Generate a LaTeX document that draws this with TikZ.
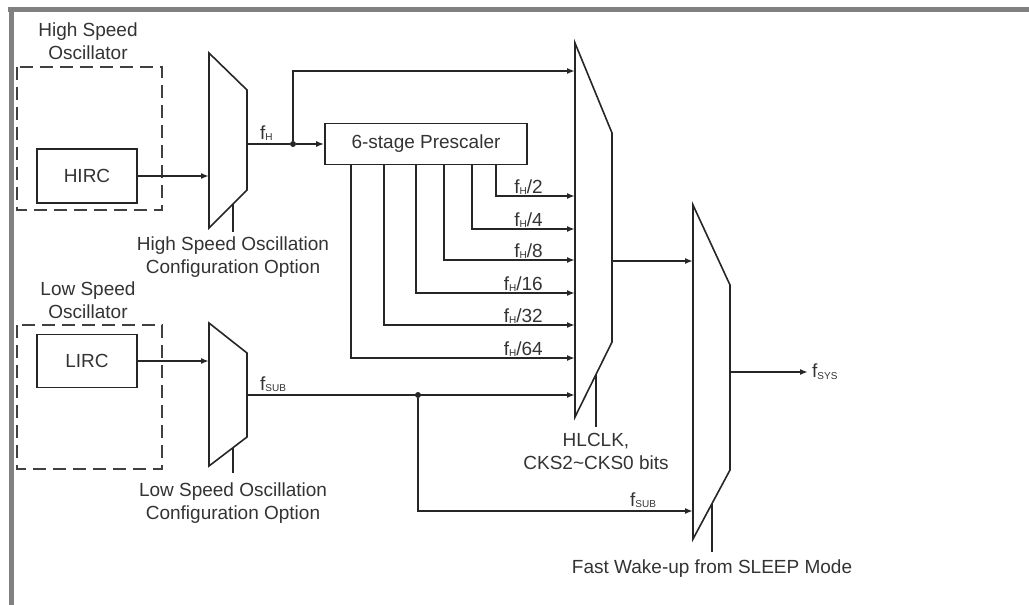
\documentclass[tikz,border=0pt]{standalone}
\usepackage{fontspec}
\setmainfont{Liberation Sans}
\usetikzlibrary{arrows.meta}
\newcommand{\lowidx}[1]{{\fontsize{10}{10}\selectfont\raisebox{-0.35ex}{#1}}}
\newcommand{\fhigh}{f\lowidx{H}}
\newcommand{\fsubclk}{f\lowidx{SUB}}
\tikzset{
  wire/.style={line width=1.6pt, draw=black!85},
  sig/.style={wire, -{Latex[length=8pt,width=6pt]}},
  box/.style={draw=black!85, line width=1.6pt},
  txt/.style={font=\fontsize{19}{23}\selectfont, text=black!80, align=center, inner sep=0pt},
  oscframe/.style={line width=1.6pt, draw=black!75, dash pattern=on 13pt off 7pt},
  dot/.style={circle, fill=black!85, inner sep=0pt, minimum size=6pt},
}
\begin{document}
\begin{tikzpicture}[x=1pt,y=-1pt]
\useasboundingbox (0,0) rectangle (1029,605);
\draw[line width=5pt, gray] (8,9) -- (1029,9);
\draw[line width=5pt, gray] (11.5,7) -- (11.5,605);

\draw[oscframe] (17,67) rectangle (162,210);
\draw[oscframe] (17,325) rectangle (162,469);
\node[txt, anchor=north] (hsosc) at (88,23) {High Speed\\Oscillator};
\node[txt, anchor=north] (lsosc) at (88,282) {Low Speed\\Oscillator};
\node[box, txt, minimum width=100pt, minimum height=54pt] (hirc) at (87,176) {HIRC};
\node[box, txt, minimum width=100pt, minimum height=53pt] (lirc) at (87,361) {LIRC};
\node[box, txt, minimum width=202pt, minimum height=41pt] (presc) at (426,144) {6-stage Prescaler};

\draw[wire] (209,53) -- (247,90) -- (247,190) -- (209,228) -- cycle;
\draw[wire] (209,323) -- (247,353) -- (247,437) -- (209,466) -- cycle;
\draw[wire] (575,43) -- (612,133) -- (612,342) -- (575,417) -- cycle;
\draw[wire] (693,205) -- (730,285) -- (730,470) -- (693,539) -- cycle;
\coordinate (hsl) at (209,0);
\coordinate (bigl) at (575,0);
\coordinate (rml) at (693,0);
\coordinate (hsout) at (247,144);
\coordinate (lsout) at (247,395);
\coordinate (bigout) at (612,261);
\coordinate (rmout) at (730,372);
\coordinate (fhtop) at (575,71);
\coordinate (wakein) at (693,511);

\draw[sig] (hirc.east) -- (hirc.east -| hsl);
\draw[sig] (lirc.east) -- (lirc.east -| hsl);
\node[dot] (fhdot) at (293,144) {};
\draw[wire] (hsout) -- (fhdot);
\draw[sig] (fhdot) -- (presc.west);
\draw[sig] (fhdot) |- (fhtop);
\node[txt, anchor=base west] (fhlab) at (260,139) {\fhigh};

\foreach \tx/\ty/\lab in {496/196/2, 472/229/4, 444/260/8, 416/293/16, 384/325/32, 351/358/64} {
  \coordinate (tap\lab) at (\tx,\ty);
  \draw[sig] (presc.south -| tap\lab) |- (bigl |- tap\lab);
  \node[txt, anchor=base east] (div\lab) at (543,\ty-3) {\fhigh/\lab};
}

\node[dot] (subdot) at (418,395) {};
\draw[sig] (lsout) -- (lsout -| bigl);
\draw[sig] (subdot) |- (wakein);
\node[txt, anchor=base west] (sublab) at (260,390) {\fsubclk};
\node[txt, anchor=base west] (subwake) at (630,506) {\fsubclk};

\draw[sig] (bigout) -- (bigout -| rml);
\node[txt, anchor=west, inner xsep=4pt] (fsys) at (808,372) {f\lowidx{SYS}};
\draw[sig] (rmout) -- (fsys.west);

\draw[wire] (233,204) -- (233,232);
\draw[wire] (233,448) -- (233,473);
\draw[wire] (596,374) -- (596,427);
\draw[wire] (712,504) -- (712,552);
\node[txt, anchor=north] (hscfg) at (233,237) {High Speed Oscillation\\Configuration Option};
\node[txt, anchor=north] (lscfg) at (233,483) {Low Speed Oscillation\\Configuration Option};
\node[txt, anchor=north] (cksel) at (596,433) {HLCLK,\\CKS2\textasciitilde CKS0 bits};
\node[txt, anchor=north] (wakeup) at (712,560) {Fast Wake-up from SLEEP Mode};
\end{tikzpicture}
\end{document}
